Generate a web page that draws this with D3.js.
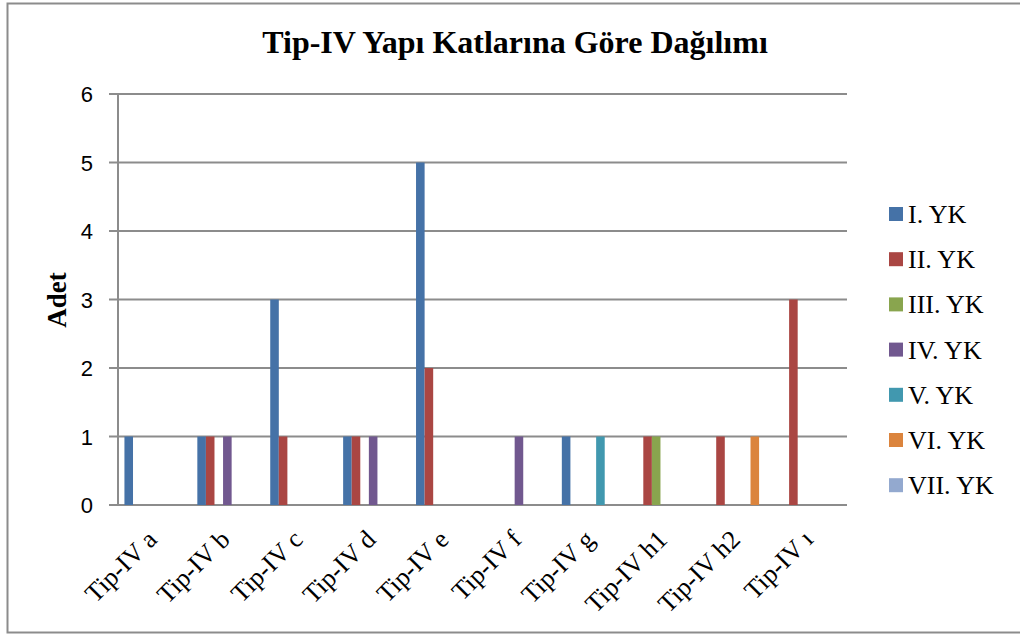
<!DOCTYPE html>
<html>
<head>
<meta charset="utf-8">
<script src="https://cdn.jsdelivr.net/npm/d3@7"></script>
<style>
  body { margin: 0; background: #fff; }
  svg { display: block; }
</style>
</head>
<body>
<div class="chart"></div>
<script>
// Data
let categories = ["Tip-IV a", "Tip-IV b", "Tip-IV c", "Tip-IV d", "Tip-IV e",
                  "Tip-IV f", "Tip-IV g", "Tip-IV h1", "Tip-IV h2", "Tip-IV ı"];
let series_names = ["I. YK", "II. YK", "III. YK", "IV. YK", "V. YK", "VI. YK", "VII. YK"];
let s1 = [1, 1, 3, 1, 5, 0, 1, 0, 0, 0];
let s2 = [0, 1, 1, 1, 2, 0, 0, 1, 1, 3];
let s3 = [0, 0, 0, 0, 0, 0, 0, 1, 0, 0];
let s4 = [0, 1, 0, 1, 0, 1, 0, 0, 0, 0];
let s5 = [0, 0, 0, 0, 0, 0, 1, 0, 0, 0];
let s6 = [0, 0, 0, 0, 0, 0, 0, 0, 1, 0];
let s7 = [0, 0, 0, 0, 0, 0, 0, 0, 0, 0];
let y_ticks = [0, 1, 2, 3, 4, 5, 6];

let series = [s1, s2, s3, s4, s5, s6, s7];
let colors = ["#4572a7", "#aa4643", "#89a54e", "#71588f", "#4198af", "#db843d", "#93a9cf"];

let width = 1020, height = 635;
let plot = { left: 118, right: 847, top: 94, bottom: 505 };
let serif = "'Liberation Serif', 'Times New Roman', serif";
let sans = "'Liberation Sans', Arial, sans-serif";
let grid_color = "#8c8c8c";

let svg = d3.select("div.chart").append("svg")
    .attr("width", width)
    .attr("height", height);

// Outer border
svg.append("rect")
  .attr("x", 7.5).attr("y", 3.5)
  .attr("width", 1030).attr("height", 629)
  .attr("fill", "none")
  .attr("stroke", grid_color)
  .attr("stroke-width", 2);

// Scales
let x0 = d3.scaleBand().domain(categories).range([plot.left, plot.right]).paddingInner(0).paddingOuter(0);
let x1 = d3.scaleBand().domain(d3.range(series.length))
    .range([0, x0.bandwidth()]).paddingOuter(0.75).paddingInner(0);
let y = d3.scaleLinear().domain([0, 6]).range([plot.bottom, plot.top]);

// Gridlines
svg.append("g").selectAll("line")
  .data(y_ticks)
  .enter().append("line")
    .attr("x1", plot.left - 9)
    .attr("x2", plot.right)
    .attr("y1", d => y(d))
    .attr("y2", d => y(d))
    .attr("stroke", grid_color)
    .attr("stroke-width", 2);

// Y axis line
svg.append("line")
  .attr("x1", plot.left).attr("x2", plot.left)
  .attr("y1", plot.top).attr("y2", plot.bottom)
  .attr("stroke", grid_color).attr("stroke-width", 2);

// Y tick labels
svg.append("g").selectAll("text")
  .data(y_ticks)
  .enter().append("text")
    .attr("x", 93)
    .attr("y", d => y(d) + 8)
    .attr("text-anchor", "end")
    .style("font-family", sans)
    .style("font-size", "22px")
    .text(d => d);

// Bars
let groups = svg.append("g").selectAll("g")
  .data(series)
  .enter().append("g")
    .attr("fill", (d, i) => colors[i]);

groups.each(function(vals, si) {
  d3.select(this).selectAll("rect")
    .data(vals.map((v, ci) => ({ v: v, c: categories[ci] })).filter(d => d.v > 0))
    .enter().append("rect")
      .attr("x", d => x0(d.c) + x1(si))
      .attr("width", x1.bandwidth())
      .attr("y", d => y(d.v))
      .attr("height", d => y(0) - y(d.v));
});

// X labels
svg.append("g").selectAll("text")
  .data(categories)
  .enter().append("text")
    .attr("text-anchor", "end")
    .attr("transform", d => "translate(" + (x0(d) + x0.bandwidth() / 2 + 4) + "," + 541 + ") rotate(-45)")
    .style("font-family", serif)
    .style("font-size", "26px")
    .text(d => d);

// Title
svg.append("text")
  .attr("x", 515).attr("y", 53)
  .attr("text-anchor", "middle")
  .style("font-family", serif)
  .style("font-size", "32px")
  .style("font-weight", "bold")
  .text("Tip-IV Yapı Katlarına Göre Dağılımı");

// Y axis title
svg.append("text")
  .attr("transform", "translate(66,300) rotate(-90)")
  .attr("text-anchor", "middle")
  .style("font-family", serif)
  .style("font-size", "27px")
  .style("font-weight", "bold")
  .text("Adet");

// Legend
let legend = svg.append("g").selectAll("g")
  .data(series_names)
  .enter().append("g")
    .attr("transform", (d, i) => "translate(889," + (214 + i * 45.2) + ")");

legend.append("rect")
  .attr("x", 0).attr("y", -7)
  .attr("width", 14).attr("height", 14)
  .attr("fill", (d, i) => colors[i]);

legend.append("text")
  .attr("x", 19).attr("y", 9)
  .style("font-family", serif)
  .style("font-size", "26px")
  .text(d => d);
</script>
</body>
</html>
